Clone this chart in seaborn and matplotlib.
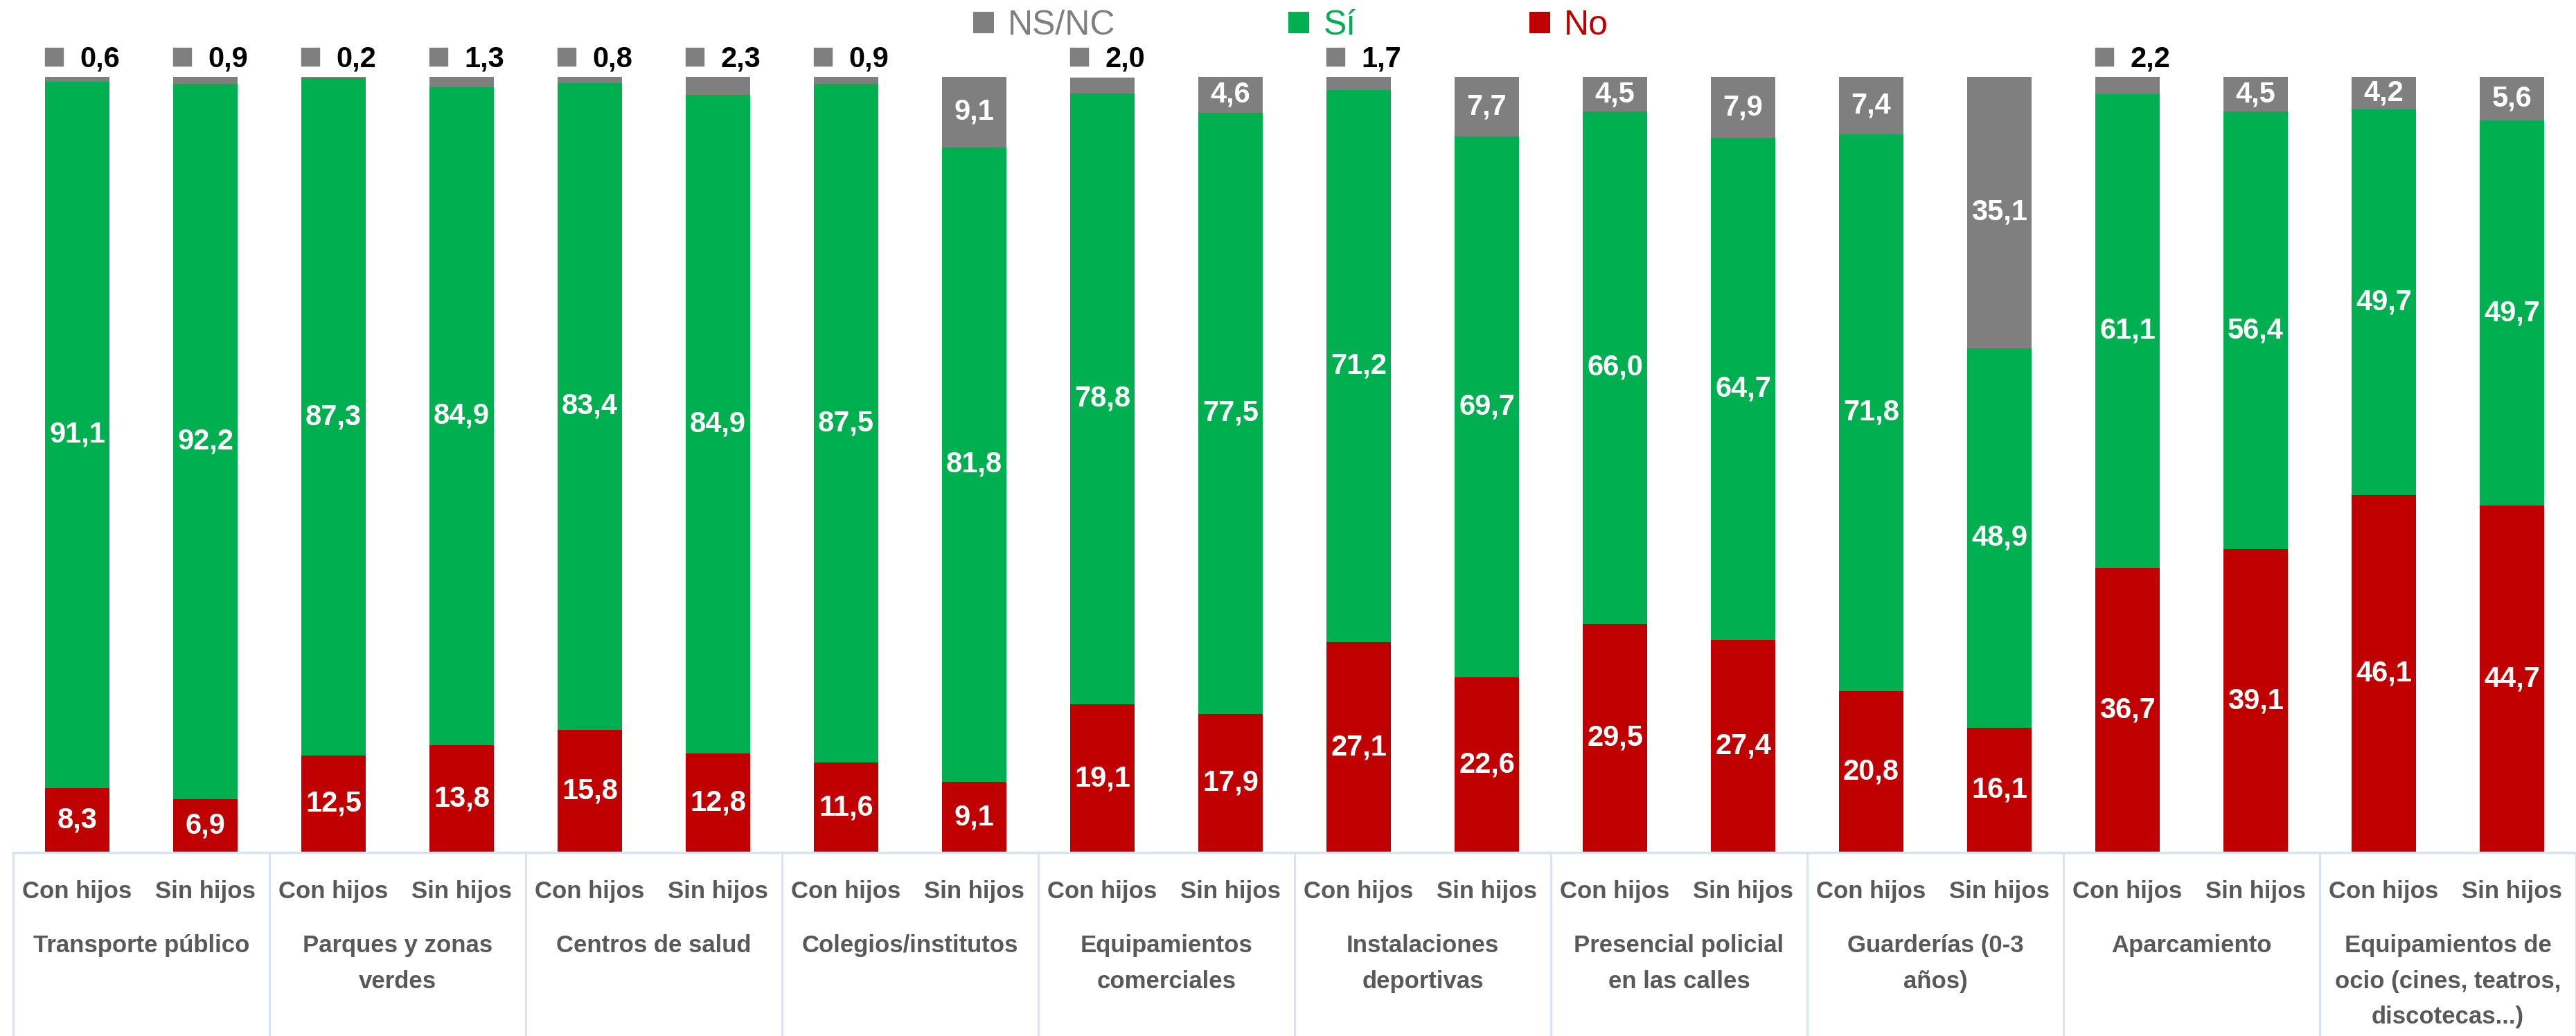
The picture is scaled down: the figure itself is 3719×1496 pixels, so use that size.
import matplotlib
matplotlib.use("Agg")
import matplotlib.pyplot as plt
import matplotlib.transforms as mtransforms
from matplotlib.lines import Line2D
from matplotlib.patches import Patch
import seaborn as sns
import pandas as pd

# ---------------- data ----------------
categories = ["Transporte público", "Parques y zonas\nverdes", "Centros de salud",
              "Colegios/institutos", "Equipamientos\ncomerciales", "Instalaciones\ndeportivas",
              "Presencial policial\nen las calles", "Guarderías (0-3\naños)", "Aparcamiento",
              "Equipamientos de\nocio (cines, teatros,\ndiscotecas...)"]
groups = ["Con hijos", "Sin hijos"]

no_vals = [8.3, 6.9, 12.5, 13.8, 15.8, 12.8, 11.6, 9.1, 19.1, 17.9,
           27.1, 22.6, 29.5, 27.4, 20.8, 16.1, 36.7, 39.1, 46.1, 44.7]
si_vals = [91.1, 92.2, 87.3, 84.9, 83.4, 84.9, 87.5, 81.8, 78.8, 77.5,
           71.2, 69.7, 66.0, 64.7, 71.8, 48.9, 61.1, 56.4, 49.7, 49.7]
nsnc_vals = [0.6, 0.9, 0.2, 1.3, 0.8, 2.3, 0.9, 9.1, 2.0, 4.6,
             1.7, 7.7, 4.5, 7.9, 7.4, 35.1, 2.2, 4.5, 4.2, 5.6]

series_names = ["NS/NC", "Sí", "No"]
colors = {"NS/NC": "#7F7F7F", "Sí": "#00B050", "No": "#C00000"}

# ---------------- fonts ----------------
FAM = ["Liberation Sans", "DejaVu Sans"]
sns.set_theme(style="white")
plt.rcParams["font.family"] = FAM

# ---------------- frame ----------------
keys = [f"{c}|{g}" for c in categories for g in groups]
df = pd.DataFrame({"key": keys, "no": no_vals, "si": si_vals, "nsnc": nsnc_vals})
df["cum_si"] = df["no"] + df["si"]
df["cum_all"] = df["cum_si"] + df["nsnc"]

W, H, DPI = 3719, 1496, 100
fig = plt.figure(figsize=(W / DPI, H / DPI), dpi=DPI)
ax = fig.add_axes([19 / W, 1 - 1231 / H, 1 - 19 / W, (1231 - 111) / H])

for col, name in [("cum_all", "NS/NC"), ("cum_si", "Sí"), ("no", "No")]:
    sns.barplot(data=df, x="key", y=col, order=keys, color=colors[name],
                saturation=1, width=0.5, ax=ax, linewidth=0, errorbar=None)

ax.set_xlim(-0.5, len(keys) - 0.5)
ax.set_ylim(0, 100)
ax.set_xlabel("")
ax.set_ylabel("")
ax.set_xticks([])
ax.set_yticks([])
for s in ["left", "right", "top"]:
    ax.spines[s].set_visible(False)
ax.spines["bottom"].set_color("#D6E2F2")
ax.spines["bottom"].set_linewidth(2.5)

# ---------------- value labels ----------------
VAL_FS = 30
def fmt(v):
    return f"{v:.1f}".replace(".", ",")

for i in range(len(keys)):
    no, si, ns = no_vals[i], si_vals[i], nsnc_vals[i]
    ax.text(i, no / 2, fmt(no), ha="center", va="center", color="white",
            fontsize=VAL_FS, fontweight="bold")
    ax.text(i, no + si / 2, fmt(si), ha="center", va="center", color="white",
            fontsize=VAL_FS, fontweight="bold")
    top = no + si
    if ns >= 4:
        ax.text(i, top + ns / 2, fmt(ns), ha="center", va="center", color="white",
                fontsize=VAL_FS, fontweight="bold")
    else:
        ax.plot([i - 0.18], [102.6], marker="s", ms=19, color=colors["NS/NC"],
                clip_on=False, linestyle="none")
        ax.text(i + 0.02, 102.3, fmt(ns), ha="left", va="center", color="black",
                fontsize=VAL_FS, fontweight="bold", clip_on=False)

# ---------------- table-like category axis ----------------
blend = mtransforms.blended_transform_factory(ax.transData, fig.transFigure)
sep_color = "#D6E2F2"
for k in range(len(categories) + 1):
    xpos = 2 * k - 0.5
    ax.add_line(Line2D([xpos, xpos], [1 - 1231 / H, 0], transform=blend,
                       color=sep_color, linewidth=2, clip_on=False))

LBL_FS = 25
for i, key in enumerate(keys):
    g = key.split("|")[1]
    ax.text(i, 1 - 1287 / H, g, transform=blend, ha="center", va="center",
            fontsize=LBL_FS, fontweight="bold", color="#595959")

for k, c in enumerate(categories):
    ax.text(2 * k + 0.5, 1 - 1349 / H, c, transform=blend, ha="center", va="top",
            fontsize=LBL_FS, fontweight="bold", color="#595959", linespacing=1.72)

# ---------------- legend ----------------
handles = [Patch(facecolor=colors[n], edgecolor="none", label=n) for n in series_names]
fig.legend(handles=handles, loc="center", bbox_to_anchor=(0.501, 1 - 37 / H),
           ncol=3, frameon=False, fontsize=36, handlelength=0.6, handleheight=0.6,
           handletextpad=0.4, columnspacing=5.0,
           labelcolor=[colors[n] for n in series_names])

fig.savefig("out.png", dpi=DPI, facecolor="white")
